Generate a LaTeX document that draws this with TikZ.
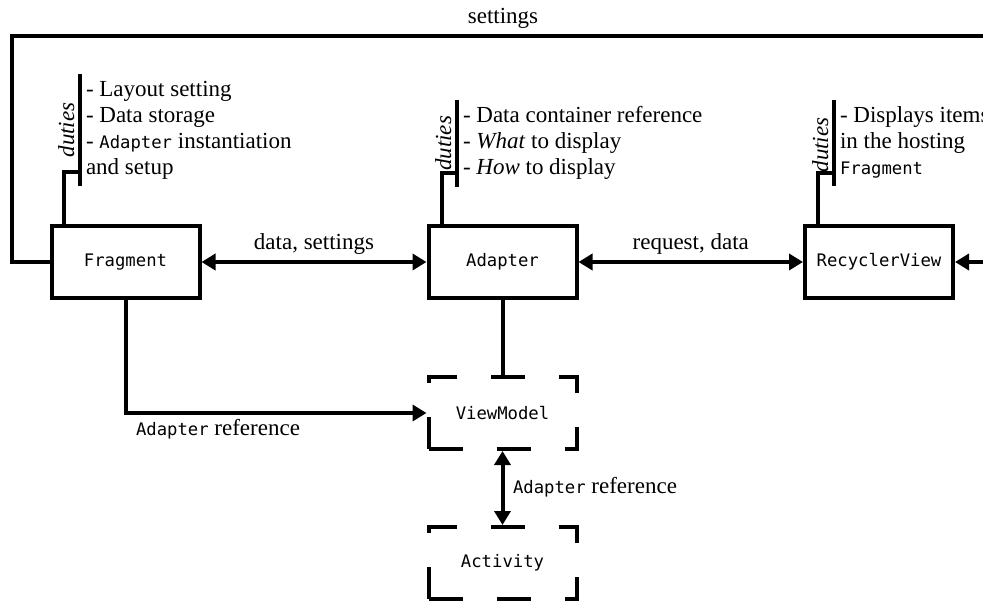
\documentclass[tikz,border=0pt]{standalone}
\usepackage{fontspec}
\setmainfont{Liberation Serif}
\setmonofont{DejaVu Sans Mono}[Scale=0.75]
\usetikzlibrary{arrows.meta}
\begin{document}
\begin{tikzpicture}[x=1pt,y=-1pt,
  line width=4pt,
  every node/.style={font=\fontsize{23}{26}\selectfont, inner sep=0pt},
  box/.style={draw, line width=4pt, minimum width=148pt, minimum height=72pt, font=\fontsize{23}{26}\selectfont\ttfamily},
  dbox/.style={box, dash pattern=on 34pt off 34pt},
  tip/.style={-{Triangle[length=14pt,width=16pt]}},
  dtip/.style={{Triangle[length=14pt,width=16pt]}-{Triangle[length=14pt,width=16pt]}},
  duty/.style={anchor=base west},
  dlabel/.style={rotate=90, anchor=base, font=\fontsize{23}{26}\selectfont\itshape},
  elabel/.style={midway, anchor=base, yshift=12pt}
]
\useasboundingbox (0,0) rectangle (983,604);
% boxes
\node[box] (frag) at (125.5,262) {Fragment};
\node[box] (adap) at (502.5,262) {Adapter};
\node[box] (recy) at (879,262) {RecyclerView};
\node[dbox] (vm) at (502.5,413) {ViewModel};
\node[dbox] (act) at (502.5,563) {Activity};
% settings loop
\coordinate (tl) at (12,36);
\coordinate (tr) at (994,36);
\draw[tip] (frag.west) -| (tl) -- node[elabel] (lset) {settings} (tr) |- (recy.east);
% horizontal connectors
\draw[dtip] (frag.east) -- node[elabel] (lds) {data, settings} (adap.west);
\draw[dtip] (adap.east) -- node[elabel] (lrd) {request, data} (recy.west);
% lower connectors
\draw[tip] (frag.south) |- (vm.west);
\node[anchor=base west] (lar1) at (134,435) {\texttt{Adapter} reference};
\draw (adap.south) -- (vm.north);
\draw[dtip] (vm.south) -- (act.north);
\node[anchor=base west] (lar2) at (511,493) {\texttt{Adapter} reference};
% Fragment duties
\coordinate (fbt) at (80,74);
\coordinate (fbb) at (80,186);
\coordinate (fbj) at (80,172);
\draw (fbt) -- (fbb);
\draw ([xshift=-61.5pt]frag.north) |- (fbj);
\node[dlabel] (fdut) at (74,130) {duties};
\node[duty] (f1) at (84,97) {- Layout setting};
\node[duty] (f2) at (84,123) {- Data storage};
\node[duty] (f3) at (84,149) {- \texttt{Adapter} instantiation};
\node[duty] (f4) at (84,175) {and setup};
% Adapter duties
\coordinate (abt) at (457,100);
\coordinate (abb) at (457,187);
\coordinate (abj) at (457,173);
\draw (abt) -- (abb);
\draw ([xshift=-60.5pt]adap.north) |- (abj);
\node[dlabel] (adut) at (451,143.5) {duties};
\node[duty] (a1) at (461,123) {- Data container reference};
\node[duty] (a2) at (461,149) {- \textit{What} to display};
\node[duty] (a3) at (461,175) {- \textit{How} to display};
% RecyclerView duties
\coordinate (rbt) at (834,100);
\coordinate (rbb) at (834,186);
\coordinate (rbj) at (834,173);
\draw (rbt) -- (rbb);
\draw ([xshift=-61pt]recy.north) |- (rbj);
\node[dlabel] (rdut) at (828,145) {duties};
\node[duty] (r1) at (838,123) {- Displays items};
\node[duty] (r2) at (838,149) {in the hosting};
\node[duty] (r3) at (838,175) {\texttt{Fragment}};
\end{tikzpicture}
\end{document}
